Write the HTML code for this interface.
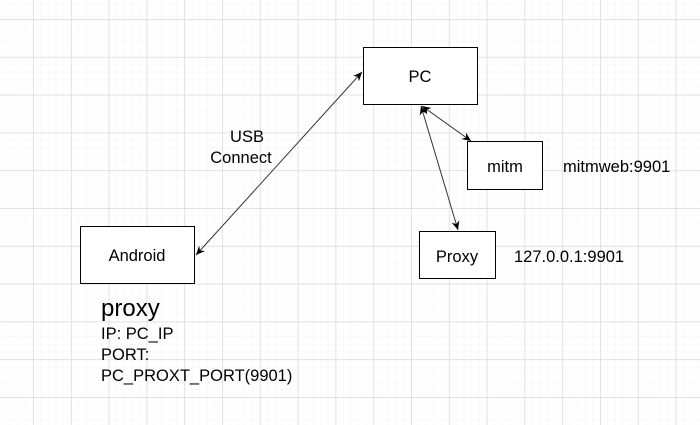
<!DOCTYPE html>
<html><head><style>
html,body{margin:0;padding:0;background:#fff;}
svg{display:block;font-family:"Liberation Sans",Arial,sans-serif;}
</style></head><body>
<svg width="700" height="425" viewBox="0 0 700 425" xmlns="http://www.w3.org/2000/svg">
<defs>
<pattern id="minor" x="33" y="19" width="7.56" height="7.56" patternUnits="userSpaceOnUse">
<path d="M0 0H7.56M0 0V7.56" stroke="#f3f3f3" stroke-width="1" fill="none"/>
</pattern>
<pattern id="major" x="33" y="19" width="37.8" height="37.8" patternUnits="userSpaceOnUse">
<path d="M0 0.5H37.8M0.5 0V37.8" stroke="#e2e2e2" stroke-width="1" fill="none"/>
</pattern>
<marker id="ah" markerWidth="10" markerHeight="10" refX="9" refY="5" orient="auto-start-reverse" markerUnits="userSpaceOnUse">
<path d="M0,1 L9,5 L0,9 L3,5 Z" fill="#000"/>
</marker>
</defs>
<rect width="700" height="425" fill="#fff"/>
<rect width="700" height="425" fill="url(#minor)"/>
<rect width="700" height="425" fill="url(#major)"/>

<g stroke="#000" stroke-width="1" fill="#fff">
<rect x="363.5" y="47.5" width="114" height="57"/>
<rect x="467.5" y="141.5" width="75" height="48"/>
<rect x="419.5" y="231.5" width="76" height="47"/>
<rect x="80.5" y="226.5" width="114" height="57"/>
</g>
<g stroke="#333" stroke-width="1" fill="none">
<line x1="196" y1="255" x2="362" y2="72" marker-start="url(#ah)" marker-end="url(#ah)"/>
<line x1="421" y1="106" x2="458" y2="230" marker-start="url(#ah)" marker-end="url(#ah)"/>
<line x1="422" y1="106" x2="471" y2="141" marker-start="url(#ah)" marker-end="url(#ah)"/>
</g>
<g font-size="16.5" fill="#000" text-anchor="middle">
<text x="420" y="82">PC</text>
<text x="505" y="172">mitm</text>
<text x="457" y="262">Proxy</text>
<text x="137" y="261">Android</text>
<text x="247" y="142">USB</text>
<text x="241" y="163">Connect</text>
</g>
<g font-size="16.5" fill="#000">
<text x="563" y="172">mitmweb:9901</text>
<text x="514" y="262">127.0.0.1:9901</text>
<text x="101" y="316" font-size="24">proxy</text>
<text x="101" y="339">IP: PC_IP</text>
<text x="101" y="360">PORT:</text>
<text x="101" y="381">PC_PROXT_PORT(9901)</text>
</g>
</svg>
</body></html>
